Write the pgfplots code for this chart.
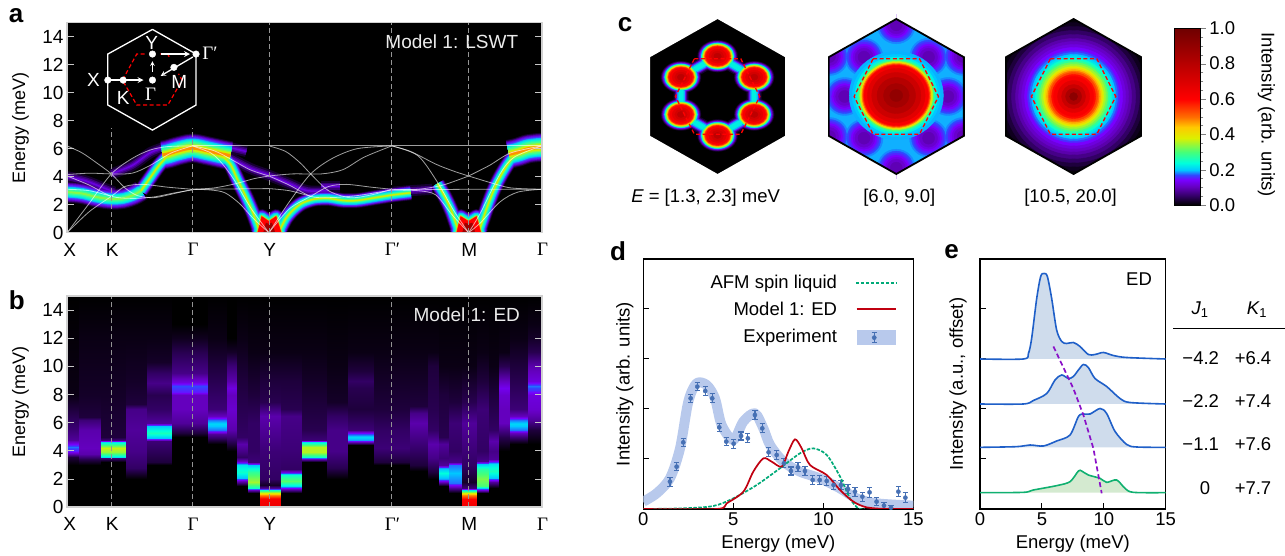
\documentclass[border=0pt]{standalone}
\usepackage{fontspec}
\setmainfont{Liberation Sans}
\newfontfamily\gam{Liberation Serif}
\usepackage{pgfplots}
\usepackage{pgfplotstable}
\pgfplotsset{compat=1.18}
\newcommand\fs{\fontsize{19}{22}\selectfont}
\newcommand\fl{\fontsize{18}{21}\selectfont}
\newcommand\fd{\fontsize{18.5}{21}\selectfont}
\definecolor{k1}{HTML}{160030}
\definecolor{k2}{HTML}{3A0078}
\definecolor{k3}{HTML}{6A00E0}
\definecolor{k4}{HTML}{4A40FF}
\definecolor{k5}{HTML}{10B0FF}
\definecolor{k6}{HTML}{00F0E0}
\definecolor{k7}{HTML}{40FF90}
\definecolor{k8}{HTML}{D0F000}
\definecolor{k9}{HTML}{FF9000}
\definecolor{k10}{HTML}{FF0000}
\definecolor{k11}{HTML}{D00000}
\definecolor{k12}{HTML}{A00000}
\definecolor{k13}{HTML}{800000}
\pgfplotsset{
  colormap={fm}{rgb255(0)=(0,0,0) rgb255(5)=(50,0,100) rgb255(10)=(100,0,190) rgb255(14)=(120,0,255) rgb255(17)=(50,70,255) rgb255(20)=(0,200,255) rgb255(24)=(0,255,220) rgb255(30)=(70,255,120) rgb255(38)=(220,240,0) rgb255(44)=(255,200,0) rgb255(50)=(255,110,0) rgb255(60)=(255,0,0) rgb255(75)=(200,0,0) rgb255(100)=(110,0,0)},
  every axis/.append style={scale only axis, anchor=south west,
    tick label style={font=\fs}, label style={font=\fl},
    /pgf/number format/assume math mode=true},
  band/.style={xmin=188,xmax=1517,ymin=0,ymax=15,
    ytick={0,2,...,14},
    xtick={188,312,539,753,1097,1312,1517},
    xticklabels={{\hspace{4pt}X},K,{\gam Γ},Y,{\gam Γ′},M,{\gam Γ}},
    xticklabel style={yshift=-7pt,xshift=.7pt},
    ylabel={Energy (meV)},
    ylabel style={at={(axis description cs:-0.0984,.5)},anchor=center},
    axis line style={draw=black!18,line width=1.6pt},
    y tick style={draw=black!22,line width=1pt},
    x tick style={draw=none},
    major tick length=7pt, tick align=inside, ytick pos=both, xtick pos=bottom,
    axis on top, clip marker paths=true,
    axis background/.style={fill=black},
    width=474.7pt,
    point meta min=0, point meta max=1, colormap name=fm},
  gl/.style={smooth,line join=round},
  hex/.style={hide axis,xmin=-175,xmax=175,ymin=-245,ymax=245,width=150.67pt,height=163.33pt,clip marker paths=true,point meta min=0,point meta max=1,colormap name=fm},
  dv/.style={color=black!42,dash pattern=on 5pt off 3pt,line width=.8pt},
  rd/.style={color=red,line width=1.2pt,dash pattern=on 4pt off 2.6pt},
  line/.style={xmin=0,xmax=15,ymin=0,ymax=5,xtick={0,5,10,15},ytick={1,2,3,4},yticklabels={},
    tick align=inside,xtick pos=bottom,ytick pos=left,major tick length=6pt,
    axis line style={line width=1.3pt},tick style={line width=1pt,color=black},
    tick label style={font=\fd},label style={font=\fd},
    xlabel={Energy (meV)},
    xlabel style={at={(axis description cs:.5,-.137)},anchor=center},
    width=270pt,height=250pt},
  ebar/.style={only marks,mark=*,mark size=2.1pt,color={rgb,255:red,70;green,112;blue,180},
    error bars/.cd,y dir=both,y explicit,error bar style={line width=1.2pt},error mark options={rotate=90,mark size=2.6pt,line width=1.1pt}}
}
% ---------- panel a ridges (x along the path, y in meV)
\pgfplotstableread[row sep=\\]{x y\\455 5.55\\470 5.62\\500 5.85\\539 6.05\\580 5.85\\625 5.6\\645 5.5\\}\tTa
\pgfplotstableread[row sep=\\]{x y\\1425 5.6\\1450 5.75\\1480 6.0\\1517 6.1\\}\tTb
\pgfplotstableread[row sep=\\]{x y\\188 2.9\\230 2.8\\270 2.55\\312 2.4\\345 2.45\\375 2.7\\395 3.0\\}\tB
\pgfplotstableread[row sep=\\]{x y\\395 3.0\\420 3.9\\445 4.8\\470 5.5\\}\tRa
\pgfplotstableread[row sep=\\]{x y\\620 5.5\\645 4.9\\665 3.8\\690 2.5\\710 1.3\\728 0\\}\tRb
\pgfplotstableread[row sep=\\]{x y\\780 0\\800 1.0\\820 1.6\\845 2.1\\880 2.4\\920 2.45\\960 2.3\\1000 2.3\\1050 2.5\\1100 2.7\\1150 2.85\\}\tRc
\pgfplotstableread[row sep=\\]{x y\\1225 3.5\\1245 2.6\\1265 1.5\\1285 0\\}\tRd
\pgfplotstableread[row sep=\\]{x y\\1340 0\\1365 1.9\\1385 3.2\\1405 4.2\\1430 5.2\\1450 5.6\\}\tRe
\pgfplotstableread[row sep=\\]{x y\\188 4.0\\240 3.7\\290 3.2\\320 2.9\\}\tPa
\pgfplotstableread[row sep=\\]{x y\\312 4.2\\370 4.8\\420 5.7\\460 6.1\\}\tPb
\pgfplotstableread[row sep=\\]{x y\\640 5.4\\700 4.6\\753 4.1\\810 3.5\\860 3.0\\920 3.0\\}\tPc
\pgfplotstableread[row sep=\\]{x y\\1100 2.9\\1150 3.0\\1210 3.1\\}\tPd
\pgfplotstableread[row sep=\\]{x y\\640 6.1\\690 5.8\\}\tPe
\pgfplotstableread[row sep=\\]{x y\\900 3.3\\950 3.3\\}\tPf
\pgfplotstableread[row sep=\\]{x y\\722 0\\733 1.15\\753 0.8\\773 1.15\\787 0\\}\tWy
\pgfplotstableread[row sep=\\]{x y\\1279 0\\1290 1.15\\1312 0.8\\1334 1.15\\1346 0\\}\tWm
\newcommand\layer[5]{%
 \ifdim#5pt>0pt
  \addplot[gl,color=#1,line width=#5pt] table{\tPa};
  \addplot[gl,color=#1,line width=#5pt] table{\tPb};
  \addplot[gl,color=#1,line width=#5pt] table{\tPc};
  \addplot[gl,color=#1,line width=#5pt] table{\tPd};
  \addplot[gl,color=#1,line width=#5pt] table{\tPe};
  \addplot[gl,color=#1,line width=#5pt] table{\tPf};
 \fi
 \ifdim#3pt>0pt
  \addplot[gl,color=#1,line width=#3pt] table{\tB};
 \fi
 \ifdim#4pt>0pt
  \addplot[gl,color=#1,line width=#4pt] table{\tRa};
  \addplot[gl,color=#1,line width=#4pt] table{\tRb};
  \addplot[gl,color=#1,line width=#4pt] table{\tRc};
  \addplot[gl,color=#1,line width=#4pt] table{\tRd};
  \addplot[gl,color=#1,line width=#4pt] table{\tRe};
  \addplot[color=#1,fill=#1,line width=#4pt,line join=round] table{\tWy};
  \addplot[color=#1,fill=#1,line width=#4pt,line join=round] table{\tWm};
 \fi
 \addplot[gl,color=#1,line width=#2pt] table{\tTa};
 \addplot[gl,color=#1,line width=#2pt] table{\tTb};
}
\newcommand\W[1]{\addplot[smooth,color=white,opacity=.62,line width=.8pt] coordinates {#1};}
% ---------- one column of a heat map: x from #1 to #2, knots value/intensity
\newcommand\col[3]{%
 \gdef\clist{}%
 \foreach \ee/\vv in {#3}{\xdef\clist{\clist (#1,\ee) [\vv] (#2,\ee) [\vv]}}%
 \edef\tmp{\noexpand\addplot[surf,shader=interp,mesh/cols=2,point meta=explicit,forget plot] coordinates {\clist};}%
 \tmp}
% ---------- discs of radius #1 pt and intensity #2
\newcommand\CR[2]{\addplot[scatter,only marks,mark=*,mark size=#1pt,point meta=explicit,scatter/use mapped color={draw=mapped color,fill=mapped color}] coordinates {(0,0) [#2]};}
\newcommand\ER[2]{\addplot[scatter,only marks,mark=*,mark size=#1pt,point meta=explicit,scatter/use mapped color={draw=mapped color,fill=mapped color},mark options={xscale=1.07}] coordinates {(0,3) [#2]};}
\newcommand\BL[2]{\addplot[scatter,only marks,mark=*,mark size=#1pt,point meta=explicit,scatter/use mapped color={draw=mapped color,fill=mapped color},mark options={xscale=1.25}] coordinates {(0,121) [#2] (85,58) [#2] (85,-54) [#2] (0,-117) [#2] (-85,-54) [#2] (-85,58) [#2]};}
\newcommand\RG[2]{\addplot[color=#2,line width=#1pt,line join=round] coordinates {(0,121)(85,58)(85,-54)(0,-117)(-85,-54)(-85,58)(0,121)(85,58)};}
\newcommand\SP[2]{\addplot[scatter,only marks,mark=*,mark size=#1pt,point meta=explicit,scatter/use mapped color={draw=mapped color,fill=mapped color}] coordinates {(-120,0) [#2] (120,0) [#2] (-75,118) [#2] (75,118) [#2] (-75,-125) [#2] (75,-125) [#2] (0,215) [#2] (0,-215) [#2] (-155,120) [#2] (155,120) [#2] (-155,-120) [#2] (155,-120) [#2]};}
\newcommand\HC{\addplot[fill=white,draw=none] coordinates {(-180,250)(0,250)(0,232.5)(-157,118)(-157,-118)(0,-232.5)(0,-250)(-180,-250)};
 \addplot[fill=white,draw=none] coordinates {(180,250)(0,250)(0,232.5)(157,118)(157,-118)(0,-232.5)(0,-250)(180,-250)};}
\newcommand\HB{\addplot[color=black,line width=1.8pt,line join=miter] coordinates {(0,232.5)(157,118)(157,-118)(0,-232.5)(-157,-118)(-157,118)(0,232.5)(157,118)};}
\newcommand\HD{\addplot[color=red,line width=1.3pt,dash pattern=on 4pt off 2.6pt] coordinates {(-54,113)(54,113)(98,0)(54,-113)(-54,-113)(-98,0)(-54,113)};}
\begin{document}
\begin{tikzpicture}[x=1pt,y=1pt]
\useasboundingbox (0pt,0pt) rectangle (1285pt,556pt);
% ===== a =====
\begin{axis}[band,at={(67.1pt,323.3pt)},height=210pt]
\layer{k1}{29}{21}{15}{11}
\layer{k2}{27}{19}{13.5}{7}
\layer{k2!50!k3}{25.5}{17.5}{12.5}{4}
\layer{k3}{24}{16}{11.5}{1.5}
\layer{k3!50!k4}{22.5}{14.5}{10.7}{0}
\layer{k4}{21}{13}{10}{0}
\layer{k5}{19}{11}{8.5}{0}
\layer{k5!50!k6}{17.5}{9.7}{7.2}{0}
\layer{k6}{16}{8.5}{6}{0}
\layer{k6!50!k7}{14}{6.5}{4.8}{0}
\layer{k7}{12}{4.5}{3.5}{0}
\layer{k7!50!k8}{9}{2}{2.2}{0}
\layer{k8}{6.5}{0}{1.2}{0}
\layer{k9}{3.2}{0}{0}{0}
\addplot[color=k9,fill=k9,line width=1.5pt] table{\tWy};
\addplot[color=k9,fill=k9,line width=1.5pt] table{\tWm};
\addplot[color=k10,fill=k10] table{\tWy};
\addplot[color=k10,fill=k10] table{\tWm};
\addplot[color=k12,fill=k12] coordinates {(738,0)(745,.7)(753,.6)(761,.7)(770,0)};
\addplot[color=k12,fill=k12] coordinates {(1295,0)(1302,.7)(1312,.6)(1322,.7)(1330,0)};
\W{(188,0)(250,2.1)(312,4.2)(370,5.3)(420,5.9)(470,6.15)(539,6.2)}
\W{(188,6.2)(230,5.7)(270,5)(312,4.2)(350,3.2)(385,2.65)(430,2.5)(480,2.75)(539,3.1)}
\W{(188,0)(250,1.5)(312,2.6)(350,3.3)(400,3.45)(470,3.25)(539,3.1)}
\W{(188,4.05)(250,3.4)(312,2.6)(370,2.45)(430,2.55)(490,2.85)(539,3.05)}
\W{(188,3.1)(250,3.0)(312,2.6)}
\W{(188,4.15)(250,4.25)(312,4.2)(370,4.25)(420,4.8)(480,5.7)(539,6.2)}
\W{(539,6.2)(753,6.2)(1097,6.2)(1517,6.2)}
\W{(539,6.2)(600,5.85)(650,5.2)(700,4.5)(753,4.05)}
\W{(539,6.2)(590,5.7)(620,5)(655,3.8)(700,1.85)(753,0)}
\W{(539,3.1)(753,3.15)}
\W{(539,3.1)(600,3.2)(660,3.5)(710,3.85)(753,4.05)}
\W{(539,3.1)(590,3.05)(630,2.85)(670,2.1)(710,1.0)(753,0)}
\W{(753,0)(810,2.2)(870,4.2)(930,5.3)(1000,6)(1097,6.2)}
\W{(753,6.2)(800,5.8)(840,5)(870,4.2)(920,3)(980,2.5)(1040,2.7)(1097,3.1)}
\W{(753,0)(810,1.7)(870,2.6)(920,3.3)(970,3.45)(1040,3.25)(1097,3.1)}
\W{(753,4.05)(810,3.4)(870,2.6)(920,2.5)(1000,2.65)(1097,3.05)}
\W{(753,3.15)(810,3)(870,2.6)}
\W{(753,4.05)(820,4.2)(900,4.2)(960,4.5)(1020,5.4)(1097,6.2)}
\W{(1097,6.2)(1150,5.8)(1220,4.9)(1270,4.4)(1312,4.05)}
\W{(1097,6.2)(1170,5.5)(1225,3.6)(1270,1.6)(1312,0)}
\W{(1097,3.05)(1312,3.1)(1517,3.1)}
\W{(1097,3.1)(1170,3.1)(1240,3.4)(1312,4.05)}
\W{(1097,3.05)(1170,3)(1220,2.7)(1265,1.3)(1312,0)}
\W{(1312,0)(1345,.7)(1400,2.2)(1450,2.9)(1517,3.1)}
\W{(1312,0)(1345,1.4)(1400,4.2)(1440,5.4)(1517,6.2)}
\W{(1312,4.05)(1370,3.6)(1430,3.2)(1517,3.1)}
\W{(1312,4.05)(1370,4.8)(1430,5.7)(1517,6.2)}
\addplot[dv] coordinates {(312,0)(312,7.45)};
\addplot[dv] coordinates {(539,0)(539,7.45)};
\addplot[dv] coordinates {(753,0)(753,15)};
\addplot[dv] coordinates {(1097,0)(1097,15)};
\addplot[dv] coordinates {(1312,0)(1312,15)};
% inset Brillouin zone
\addplot[color=white,line width=1.3pt] coordinates {(427,14.52)(549,12.76)(549,9.12)(427,7.33)(302,9.12)(302,12.76)(427,14.52)};
\addplot[rd] coordinates {(405,12.76)(383,12.76)(343,10.9)(383,9.12)(470,9.12)(510,10.9)(500,11.35)};
\addplot[rd] coordinates {(449,12.76)(470,12.76)(476,12.45)};
\addplot[color=white,line width=1.6pt,-stealth] coordinates {(302,10.9)(402,10.9)};
\addplot[color=white,line width=1.1pt,-stealth] coordinates {(427,11.5)(427,12.25)};
\addplot[color=white,line width=1.6pt,-stealth] coordinates {(450,12.76)(532,12.76)};
\addplot[color=white,line width=1.3pt,-stealth] coordinates {(540,12.55)(450,11.2)};
\addplot[only marks,mark=*,mark size=3.3pt,color=white,mark options={draw=white,fill=white,solid}] coordinates {(427,12.76)(549,12.76)(427,10.9)(302,10.9)(345,10.9)(487,11.81)};
\node[white,font=\fs] at (axis cs:425,13.57) {Y};
\node[white,font=\fs] at (axis cs:588,12.8) {\gam Γ′};
\node[white,font=\fs] at (axis cs:262,10.9) {X};
\node[white,font=\fs] at (axis cs:345,9.64) {K};
\node[white,font=\fs] at (axis cs:422,9.9) {\gam Γ};
\node[white,font=\fs] at (axis cs:502,10.74) {M};
\node[black!8,font=\fs] at (axis cs:1265,13.64) {Model 1: LSWT};
\end{axis}
% ===== b =====
\begin{axis}[band,at={(67.1pt,48.7pt)},height=211.3pt]
\col{188}{222}{0/0,3/0,3.6/.03,4.0/.15,4.3/.18,4.8/.08,5.5/.06,7/.03,8/.01,15/0}
\col{222}{282}{0/0,3/0,3.4/.04,3.8/.09,4.2/.1,5.5/.09,6.2/.06,6.4/.03,8/.02,12/.01,15/0}
\col{282}{353}{0/0,3.2/0,3.5/.06,3.6/.22,3.9/.34,4.2/.37,4.6/.22,4.8/.06,5/.03,8/.02,12/.01,15/0}
\col{353}{413}{0/0,2/0,2.8/.05,4/.07,5.5/.08,7/.07,7.3/.03,9/.02,12/.01,15/0}
\col{413}{483}{0/0,3/0,3.2/.03,4.7/.06,4.9/.2,5.3/.26,5.8/.2,6/.08,7/.05,8/.04,8.8/.07,9.5/.05,10.3/.02,12/.01,15/0}
\col{483}{583}{0/0,5/0,5.3/.03,6/.08,7/.1,8/.1,8.2/.15,8.6/.17,8.9/.12,9.5/.07,11/.04,12/.015,13/0,15/0}
\col{583}{637}{0/0,4.5/0,4.9/.05,5.2/.08,5.5/.18,5.9/.21,6.2/.18,6.5/.1,7/.06,10/.03,12/.01,15/0}
\col{637}{664}{0/0,4/0,4.8/.05,5.5/.09,7/.11,8/.1,8.5/.12,9/.09,10/.06,11/.02,12/0,15/0}
\col{664}{695}{0/0,1.5/0,1.9/.1,2.1/.2,2.5/.25,3/.22,3.3/.1,3.6/.05,4/.07,4.5/.09,5/.05,7/.04,9/.03,12/.01,15/0}
\col{695}{728}{0/0,1/0,1.2/.1,1.4/.25,1.8/.35,2.5/.28,3/.2,3.2/.06,4/.05,6/.05,8/.03,11/.01,15/0}
\col{728}{787}{0/.65,.6/.62,.85/.48,1/.38,1.2/.25,1.4/.08,1.6/.02,2/.05,4/.06,6.5/.09,7.5/.04,9/.03,11/.01,15/0}
\col{787}{845}{0/0,1/0,1.3/.1,1.5/.22,1.9/.31,2.3/.25,2.5/.12,2.7/.05,4/.06,6.5/.07,7/.04,9/.03,11/.01,15/0}
\col{845}{916}{0/0,3.2/0,3.4/.1,3.6/.25,3.9/.36,4.3/.36,4.6/.22,4.8/.06,5.5/.04,9/.02,11/.01,15/0}
\col{916}{975}{0/0,2/0,2.8/.04,4/.07,5.5/.07,6.5/.05,7.5/.02,10/.01,15/0}
\col{975}{1047}{0/0,4.4/0,4.6/.1,4.8/.19,5/.21,5.2/.17,5.5/.06,7/.03,8.5/.04,9/.05,9.7/.03,11/.01,15/0}
\col{1047}{1148}{0/0,3/0,3.2/.03,4.2/.06,5.5/.05,7/.03,9/.02,11/.01,15/0}
\col{1148}{1198}{0/0,2.6/0,3/.03,5/.07,6/.09,6.7/.07,7.2/.03,9/.02,11/.01,15/0}
\col{1198}{1228}{0/0,2/0,2.5/.03,3.5/.07,4.5/.09,5.5/.05,7/.04,10/.03,11/.01,15/0}
\col{1228}{1257}{0/0,1.5/0,1.8/.1,2/.19,2.4/.24,2.8/.19,3/.08,3.5/.06,4.5/.08,5/.04,8/.03,10/.01,15/0}
\col{1257}{1293}{0/0,1/0,1.4/.08,1.7/.18,2.4/.2,3/.18,3.2/.07,4/.05,6/.06,7.5/.03,10/.01,15/0}
\col{1293}{1335}{0/.65,.6/.6,.9/.48,1/.38,1.2/.22,1.4/.06,1.8/.02,3/.05,6/.08,7.5/.04,10/.01,15/0}
\col{1335}{1368}{0/0,1/0,1.2/.12,1.5/.3,2/.33,2.7/.27,3.1/.2,3.3/.07,4/.05,7/.06,9/.03,11/.01,15/0}
\col{1368}{1398}{0/0,1.4/0,1.8/.08,2.1/.2,2.6/.26,3.1/.22,3.4/.08,4/.07,4.7/.09,5.5/.05,8/.03,10/.01,15/0}
\col{1398}{1427}{0/0,4/0,5/.04,6/.1,7/.1,8/.11,8.5/.13,9/.1,10/.04,11/.01,15/0}
\col{1427}{1478}{0/0,4.5/0,5/.06,5.3/.1,5.5/.18,5.9/.21,6.2/.18,6.5/.1,7/.06,9/.04,11/.02,12/.01,15/0}
\col{1478}{1517}{0/0,4.5/0,5.5/.03,6.2/.08,7/.11,8/.12,8.3/.16,8.6/.18,9/.12,10/.09,11/.04,12/.02,13/.01,15/0}
\addplot[dv] coordinates {(312,0)(312,15)};
\addplot[dv] coordinates {(539,0)(539,15)};
\addplot[dv] coordinates {(753,0)(753,15)};
\addplot[dv] coordinates {(1097,0)(1097,15)};
\addplot[dv] coordinates {(1312,0)(1312,15)};
\node[black!8,font=\fs] at (axis cs:1307,13.67) {Model 1: ED};
\end{axis}
% ===== c, hexagon 1 =====
\begin{axis}[hex,at={(642.25pt,377.83pt)}]
\addplot[fill=black,draw=none] coordinates {(-157,-232.5)(157,-232.5)(157,232.5)(-157,232.5)};
\RG{15}{k1}
\BL{16}{.02}
\BL{15.4}{.05}
\RG{12.5}{k2}
\BL{14.8}{.09}
\RG{10.5}{k3}
\BL{14.3}{.12}
\RG{9}{k4}
\BL{13.9}{.15}
\RG{7.5}{k5}
\BL{13.5}{.18}
\RG{5}{k6}
\BL{13.1}{.22}
\BL{12.7}{.26}
\BL{12.3}{.3}
\BL{11.9}{.35}
\BL{11.5}{.4}
\BL{11}{.46}
\BL{10.5}{.52}
\BL{10}{.58}
\BL{9}{.62}
\BL{7}{.68}
\BL{5}{.72}
\BL{3}{.78}
\HD
\HC
\end{axis}
% ===== c, hexagon 2 =====
\begin{axis}[hex,at={(820.95pt,377.83pt)}]
\addplot[fill=k5,draw=none] coordinates {(-157,-232.5)(157,-232.5)(157,232.5)(-157,232.5)};
\SP{19}{.185}
\SP{17}{.17}
\SP{15}{.155}
\SP{13}{.14}
\SP{11}{.125}
\SP{9}{.11}
\SP{6}{.095}
\ER{44}{.195}
\ER{41}{.2}
\ER{38.5}{.23}
\ER{36.5}{.27}
\ER{35}{.31}
\ER{34}{.37}
\ER{33}{.43}
\ER{32}{.5}
\ER{31}{.57}
\ER{30}{.62}
\ER{27}{.68}
\ER{23}{.74}
\ER{18}{.8}
\ER{12}{.85}
\ER{6}{.9}
\HD
\HC
\HB
\end{axis}
% ===== c, hexagon 3 =====
\begin{axis}[hex,at={(998.25pt,377.83pt)}]
\addplot[fill=black,draw=none] coordinates {(-157,-232.5)(157,-232.5)(157,232.5)(-157,232.5)};
\CR{78}{.005}
\CR{74}{.015}
\CR{70}{.03}
\CR{66}{.05}
\CR{62}{.07}
\CR{58}{.09}
\CR{55}{.105}
\CR{52}{.12}
\CR{49}{.14}
\CR{46}{.16}
\CR{44}{.18}
\CR{42}{.2}
\CR{40}{.22}
\CR{38}{.25}
\CR{36}{.28}
\CR{34}{.32}
\CR{32}{.35}
\CR{30}{.38}
\CR{28.5}{.42}
\CR{27}{.46}
\CR{25.5}{.5}
\CR{24}{.54}
\CR{22}{.59}
\CR{20}{.62}
\CR{16}{.68}
\CR{12}{.75}
\CR{8}{.83}
\CR{4}{.92}
\HD
\HC
\HB
\end{axis}
\fill[white] (790pt,374pt) rectangle (827.5pt,548pt);
\fill[white] (965pt,374pt) rectangle (1005pt,548pt);
\fill[white] (1141.9pt,374pt) rectangle (1170pt,548pt);
% ===== c, colour bar =====
\begin{axis}[at={(1173.9pt,351pt)},width=25.9pt,height=176.7pt,xmin=0,xmax=1,ymin=0,ymax=1,
  xtick=\empty,ytick={0,.2,.4,.6,.8,1},minor y tick num=3,ytick pos=right,yticklabel pos=right,tick align=outside,
  major tick length=6pt,minor tick length=3.5pt,
  yticklabel style={/pgf/number format/fixed,/pgf/number format/fixed zerofill,/pgf/number format/precision=1,font=\fd},
  ylabel={Intensity (arb. units)},
  ylabel style={at={(axis description cs:3.575,.51)},anchor=center,rotate=180,font=\fd},
  point meta min=0,point meta max=1,colormap name=fm,axis on top]
\col{0}{1}{0/0,.05/.05,.1/.1,.14/.14,.17/.17,.2/.2,.24/.24,.3/.3,.38/.38,.44/.44,.5/.5,.6/.6,.75/.75,1/1}
\end{axis}
\node[font=\fd] at (705.6pt,358pt) {{\itshape E} = [1.3, 2.3] meV};
\node[font=\fd] at (899.3pt,358pt) {[6.0, 9.0]};
\node[font=\fd] at (1070.6pt,358pt) {[10.5, 20.0]};
% ===== d =====
\begin{axis}[line,at={(643.3pt,47pt)},
  ylabel={Intensity (arb. units)},
  ylabel style={at={(axis description cs:-.068,.5)},anchor=center}]
\addplot[smooth,line width=10pt,color={rgb,255:red,184;green,201;blue,236},line join=round] coordinates {(0,.147)(.74,.313)(1.48,.613)(2.04,1.213)(2.5,2.147)(2.96,2.513)(3.52,2.48)(3.98,2.213)(4.35,1.68)(5,1.38)(5.56,1.75)(6.2,1.913)(6.67,1.613)(7.04,1.28)(7.78,.947)(8.7,.747)(9.81,.613)(10.93,.413)(11.85,.213)(12.96,.113)(15,.067)};
\addplot[ebar]
  coordinates {(1.48,.547)+-(0,.09)(1.85,.847)+-(0,.08)(2.22,1.333)+-(0,.08)(2.63,2.213)+-(0,.08)(3.0,2.447)+-(0,.08)(3.44,2.36)+-(0,.09)(3.83,2.213)+-(0,.09)(4.22,1.633)+-(0,.08)(4.61,1.347)+-(0,.08)(5.02,1.307)+-(0,.09)(5.43,1.46)+-(0,.08)(5.81,1.413)+-(0,.09)(6.2,1.88)+-(0,.09)(6.61,1.613)+-(0,.09)(6.96,1.133)+-(0,.09)(7.41,1.08)+-(0,.09)(7.81,.913)+-(0,.09)(8.2,.76)+-(0,.08)(8.59,.833)+-(0,.09)(8.98,.76)+-(0,.09)(9.41,.58)+-(0,.09)(9.8,.58)+-(0,.09)(10.19,.56)+-(0,.09)(10.57,.48)+-(0,.09)(10.98,.48)+-(0,.09)(11.37,.4)+-(0,.09)(11.76,.347)+-(0,.09)(12.17,.247)+-(0,.09)(12.57,.333)+-(0,.1)(12.96,.147)+-(0,.08)(13.37,.067)+-(0,.06)(13.76,.027)+-(0,.04)(14.17,.347)+-(0,.1)(14.56,.227)+-(0,.1)};
\addplot[smooth,color={rgb,255:red,0;green,170;blue,120},line width=1.7pt,dash pattern=on 3.5pt off 1.5pt] coordinates {(0,0)(2.22,.013)(3.89,.06)(5,.213)(6.3,.48)(7.59,.813)(8.7,1.113)(9.44,1.213)(10.19,1.08)(10.93,.647)(11.48,.213)(11.94,.013)(12.3,0)};
\addplot[smooth,color={rgb,255:red,192;green,0;blue,16},line width=1.7pt] coordinates {(0,0)(4.07,0)(4.63,.113)(5.56,.347)(6.11,.747)(6.67,1.013)(7.13,.947)(7.69,.847)(8.06,1.147)(8.43,1.393)(8.8,1.213)(9.26,.88)(10.19,.68)(10.93,.38)(11.67,.147)(12.41,.033)(13.5,0)(15,0)};
% key
\addplot[color={rgb,255:red,0;green,170;blue,120},line width=1.7pt,dash pattern=on 3.5pt off 1.5pt] coordinates {(11.81,4.513)(14.04,4.513)};
\addplot[color={rgb,255:red,192;green,0;blue,16},line width=1.7pt] coordinates {(11.85,4.0)(14.04,4.0)};
\addplot[color={rgb,255:red,184;green,201;blue,236},line width=15pt] coordinates {(11.85,3.427)(14.04,3.427)};
\addplot[ebar] coordinates {(12.83,3.427)+-(0,.1)};
\node[anchor=east,font=\fd] at (axis cs:10.96,4.513) {AFM spin liquid};
\node[anchor=east,font=\fd] at (axis cs:10.96,4.0) {Model 1: ED};
\node[anchor=east,font=\fd] at (axis cs:10.96,3.427) {Experiment};
\end{axis}
% ===== e =====
\begin{axis}[line,at={(980pt,47pt)},width=185.7pt,
  ylabel={Intensity (a.u., offset)},
  ylabel style={at={(axis description cs:-.118,.5)},anchor=center}]
\addplot[smooth,fill={rgb,255:red,207;green,220;blue,236},draw=none] coordinates {(0,3)(3.5,3)(3.91,3.11)(4.17,3.41)(4.58,4.21)(4.9,4.65)(5.17,4.71)(5.44,4.65)(5.79,4.21)(6.19,3.58)(6.6,3.35)(7,3.31)(7.54,3.33)(8.08,3.25)(8.75,3.09)(9.29,3.09)(9.97,3.13)(10.77,3.07)(11.85,3.03)(15,3)};
\addplot[smooth,color={rgb,255:red,31;green,95;blue,200},line width=1.6pt] coordinates {(0,3)(3.5,3)(3.91,3.11)(4.17,3.41)(4.58,4.21)(4.9,4.65)(5.17,4.71)(5.44,4.65)(5.79,4.21)(6.19,3.58)(6.6,3.35)(7,3.31)(7.54,3.33)(8.08,3.25)(8.75,3.09)(9.29,3.09)(9.97,3.13)(10.77,3.07)(11.85,3.03)(15,3)};
\addplot[smooth,fill={rgb,255:red,207;green,220;blue,236},draw=none] coordinates {(0,2.1)(3.5,2.1)(4.31,2.17)(5.39,2.31)(6.06,2.58)(6.6,2.68)(7.14,2.61)(7.54,2.65)(7.95,2.78)(8.35,2.89)(8.75,2.83)(9.29,2.61)(10.23,2.45)(11.31,2.21)(12.12,2.13)(15,2.1)};
\addplot[smooth,color={rgb,255:red,31;green,95;blue,200},line width=1.6pt] coordinates {(0,2.1)(3.5,2.1)(4.31,2.17)(5.39,2.31)(6.06,2.58)(6.6,2.68)(7.14,2.61)(7.54,2.65)(7.95,2.78)(8.35,2.89)(8.75,2.83)(9.29,2.61)(10.23,2.45)(11.31,2.21)(12.12,2.13)(15,2.1)};
\addplot[smooth,fill={rgb,255:red,207;green,220;blue,236},draw=none] coordinates {(0,1.233)(2.96,1.247)(4.04,1.28)(5.12,1.26)(6.19,1.36)(7.27,1.48)(7.95,1.85)(8.35,1.9)(8.89,1.9)(9.7,2.01)(10.23,1.91)(10.91,1.55)(11.85,1.29)(12.66,1.24)(15,1.233)};
\addplot[smooth,color={rgb,255:red,31;green,95;blue,200},line width=1.6pt] coordinates {(0,1.233)(2.96,1.247)(4.04,1.28)(5.12,1.26)(6.19,1.36)(7.27,1.48)(7.95,1.85)(8.35,1.9)(8.89,1.9)(9.7,2.01)(10.23,1.91)(10.91,1.55)(11.85,1.29)(12.66,1.24)(15,1.233)};
\addplot[smooth,fill={rgb,255:red,212;green,234;blue,208},draw=none] coordinates {(0,.327)(3.5,.333)(4.31,.38)(6.19,.467)(7.27,.547)(7.95,.76)(8.21,.76)(8.75,.68)(9.7,.613)(10.23,.533)(11.04,.58)(11.71,.413)(12.39,.333)(15,.327)};
\addplot[smooth,color={rgb,255:red,16;green,176;blue,112},line width=1.6pt] coordinates {(0,.327)(3.5,.333)(4.31,.38)(6.19,.467)(7.27,.547)(7.95,.76)(8.21,.76)(8.75,.68)(9.7,.613)(10.23,.533)(11.04,.58)(11.71,.413)(12.39,.333)(15,.327)};
\addplot[color={rgb,255:red,138;green,16;blue,200},line width=1.7pt,dash pattern=on 5pt off 3pt] coordinates {(5.93,3.25)(7.54,2.41)(8.35,1.88)(9.16,1.21)(9.83,.313)};
\node[font=\fd] at (axis cs:12.85,4.6) {ED};
\end{axis}
% ===== table =====
\draw[line width=.8pt] (1173pt,227.7pt) -- (1285pt,227.7pt);
\node[font=\fd] at (1200pt,246pt) {{\itshape J}\textsubscript{1}};
\node[font=\fd] at (1257pt,246pt) {{\itshape K}\textsubscript{1}};
\node[font=\fd] at (1200.7pt,198.3pt) {−4.2};
\node[font=\fd] at (1253pt,198.3pt) {+6.4};
\node[font=\fd] at (1200.7pt,155pt) {−2.2};
\node[font=\fd] at (1253pt,155pt) {+7.4};
\node[font=\fd] at (1200.7pt,112pt) {−1.1};
\node[font=\fd] at (1253pt,112pt) {+7.6};
\node[font=\fd] at (1205pt,68pt) {0};
\node[font=\fd] at (1253pt,68pt) {+7.7};
% ===== panel letters =====
\node[font=\fontsize{26}{28}\selectfont\bfseries] at (16pt,540pt) {a};
\node[font=\fontsize{26}{28}\selectfont\bfseries] at (16.8pt,256pt) {b};
\node[font=\fontsize{26}{28}\selectfont\bfseries] at (625pt,531pt) {c};
\node[font=\fontsize{26}{28}\selectfont\bfseries] at (618pt,305pt) {d};
\node[font=\fontsize{26}{28}\selectfont\bfseries] at (951.7pt,304pt) {e};
\end{tikzpicture}
\end{document}
